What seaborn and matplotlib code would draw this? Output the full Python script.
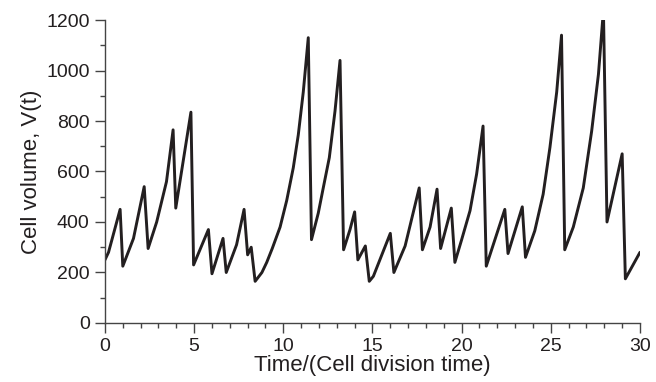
import numpy as np
import pandas as pd
import matplotlib
matplotlib.use('Agg')
import matplotlib.pyplot as plt
import seaborn as sns
from matplotlib.ticker import MultipleLocator

# Cell volume trace
time = [0.0, 0.2, 0.85, 1.0, 1.6, 2.2, 2.42, 2.9, 3.45, 3.82, 3.97, 4.82, 4.97,
        5.8, 6.0, 6.62, 6.8, 7.38, 7.8, 8.0, 8.2, 8.42, 8.8, 9.07, 9.38, 9.82,
        10.19, 10.56, 10.84, 11.12, 11.4, 11.58, 11.96, 12.24, 12.58, 12.9, 13.18,
        13.38, 13.74, 14.0, 14.18, 14.6, 14.82, 15.05, 16.0, 16.2, 16.83, 17.62,
        17.8, 18.23, 18.62, 18.82, 19.42, 19.62, 20.0, 20.47, 20.84, 21.2, 21.38,
        21.68, 22.42, 22.6, 23.4, 23.58, 24.1, 24.57, 24.95, 25.33, 25.6, 25.78,
        26.26, 26.82, 27.29, 27.67, 27.95, 28.15, 29.0, 29.18, 30.0]
volume = [250, 280, 450, 225, 335, 540, 295, 400, 560, 765, 455, 835, 230,
          370, 195, 335, 200, 310, 450, 270, 300, 165, 200, 240, 295, 380,
          485, 615, 745, 915, 1130, 330, 435, 535, 655, 840, 1040,
          290, 370, 440, 250, 305, 165, 185, 355, 200, 305, 535,
          290, 380, 530, 295, 455, 240, 330, 445, 590, 780, 225,
          290, 450, 275, 460, 260, 365, 510, 695, 915, 1140, 290,
          380, 535, 760, 985, 1240, 400, 670, 175, 280]

df = pd.DataFrame({'t': time, 'V': volume})

sns.set_style('ticks')
plt.rcParams['font.family'] = ['Liberation Sans', 'DejaVu Sans']

fig = plt.figure(figsize=(6.56, 3.82), dpi=100)
ax = fig.add_axes([0.16, 0.1545, 0.8156, 0.7931])

sns.lineplot(data=df, x='t', y='V', ax=ax, color='#231f20', linewidth=2.1,
             sort=False, estimator=None)

ax.set_xlim(0, 30)
ax.set_ylim(0, 1200)
ax.xaxis.set_major_locator(MultipleLocator(5))
ax.xaxis.set_minor_locator(MultipleLocator(1))
ax.yaxis.set_major_locator(MultipleLocator(200))
ax.yaxis.set_minor_locator(MultipleLocator(100))
ax.tick_params(which='major', length=7, width=1, color='#444444', labelsize=14,
               labelcolor='#231f20', pad=4)
ax.tick_params(axis='x', which='major', pad=3.5)
ax.tick_params(which='minor', length=3.8, width=1, color='#444444')
for s in ['left', 'bottom']:
    ax.spines[s].set_color('#444444')
    ax.spines[s].set_linewidth(1)
sns.despine(ax=ax)

ax.set_xlabel('Time/(Cell division time)', fontsize=16, color='#231f20', labelpad=0)
ax.set_ylabel('Cell volume, V(t)', fontsize=16, color='#231f20', labelpad=3)

fig.savefig('out.png', dpi=100)
